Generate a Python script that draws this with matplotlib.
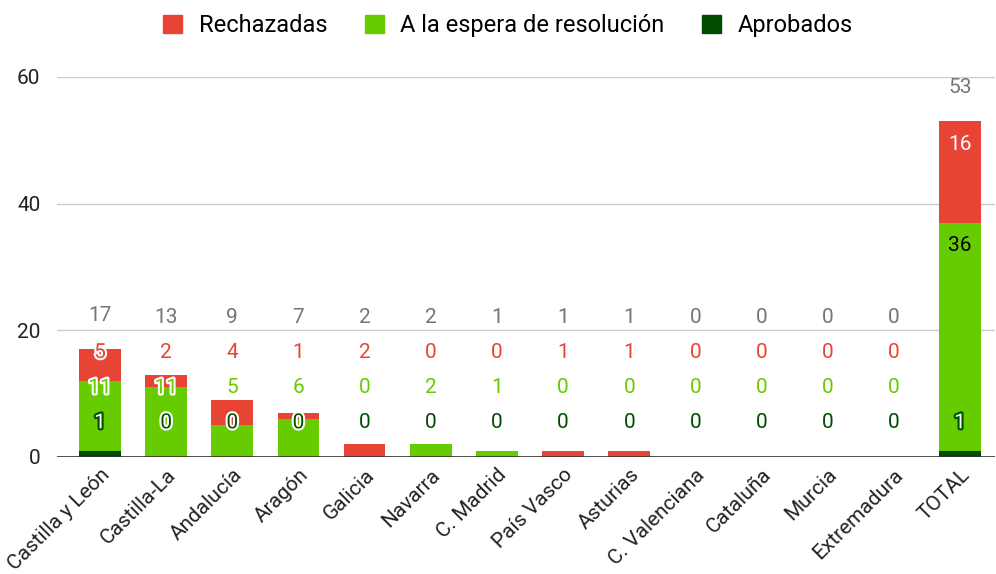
import numpy as np
import matplotlib
matplotlib.use('Agg')
import matplotlib.pyplot as plt
import matplotlib.patheffects as pe
from matplotlib.patches import Patch

plt.rcParams['font.family'] = ['Roboto', 'DejaVu Sans']

regiones = ['Castilla y León', 'Castilla-La', 'Andalucía', 'Aragón', 'Galicia',
            'Navarra', 'C. Madrid', 'País Vasco', 'Asturias', 'C. Valenciana',
            'Cataluña', 'Murcia', 'Extremadura', 'TOTAL']
aprobados = [1, 0, 0, 0, 0, 0, 0, 0, 0, 0, 0, 0, 0, 1]
espera = [11, 11, 5, 6, 0, 2, 1, 0, 0, 0, 0, 0, 0, 36]
rechazadas = [5, 2, 4, 1, 2, 0, 0, 1, 1, 0, 0, 0, 0, 16]

c_rech = '#e84436'
c_esp = '#66cc00'
c_apr = '#004d00'

aprobados = np.array(aprobados)
espera = np.array(espera)
rechazadas = np.array(rechazadas)
total = aprobados + espera + rechazadas
x = np.arange(len(regiones))

fig = plt.figure(figsize=(9.96, 5.74), dpi=100)
ax = fig.add_axes([57/996, 117/574, 938/996, 380/574])

w = 0.63
ax.bar(x, aprobados, w, color=c_apr, zorder=2)
ax.bar(x, espera, w, bottom=aprobados, color=c_esp, zorder=2)
ax.bar(x, rechazadas, w, bottom=aprobados + espera, color=c_rech, zorder=2)

# data labels, stacked so they don't overlap
series = [(aprobados, c_apr, 'white'), (espera, c_esp, 'black'), (rechazadas, c_rech, 'white')]
floors = [5.4, 10.9, 16.5]
fs = 15
for i in range(len(x)):
    bottom = 0
    prev = -10
    for k, ((vals, col, inside), fl) in enumerate(zip(series, floors)):
        top = bottom + vals[i]
        y = max(top - 3.6, fl, prev + 5.5)
        prev = y
        if bottom + 1.2 <= y <= top - 1.2:
            color, fx = inside, []
        elif k == 0 and vals[i] > 0:
            color, fx = 'white', [pe.withStroke(linewidth=3, foreground=c_apr)]
        else:
            color = col
            fx = [pe.withStroke(linewidth=3, foreground='white')] if y - 1.5 < total[i] else []
        ax.text(x[i], y, str(vals[i]), ha='center', va='center', fontsize=fs,
                color=color, path_effects=fx, zorder=4)
        bottom = top
    ax.text(x[i], max(total[i] + 5.3, prev + 5.5), str(total[i]), ha='center', va='center',
            fontsize=fs, color='#757575', zorder=4)

ax.set_xlim(-0.65, 13.53)
ax.set_ylim(0, 60)
ax.set_yticks([0, 20, 40, 60])
ax.grid(axis='y', color='#cccccc', linewidth=1, zorder=0)
ax.axhline(0, color='#333333', linewidth=1.2, zorder=3)
for s in ax.spines.values():
    s.set_visible(False)
ax.tick_params(axis='both', length=0, labelsize=15, colors='#222222')
ax.tick_params(axis='y', pad=12)
ax.tick_params(axis='x', pad=6)
ax.set_xticks(x)
ax.set_xticklabels(regiones, rotation=45, ha='right', rotation_mode='anchor', fontsize=15)

handles = [Patch(color=c_rech), Patch(color=c_esp), Patch(color=c_apr)]
fig.legend(handles, ['Rechazadas', 'A la espera de resolución', 'Aprobados'],
           loc='center', bbox_to_anchor=(0.51, 0.955), ncol=3, frameon=False,
           fontsize=17, handlelength=0.8, handleheight=0.8, columnspacing=1.6,
           handletextpad=0.7)

fig.savefig('out.png', dpi=100)
